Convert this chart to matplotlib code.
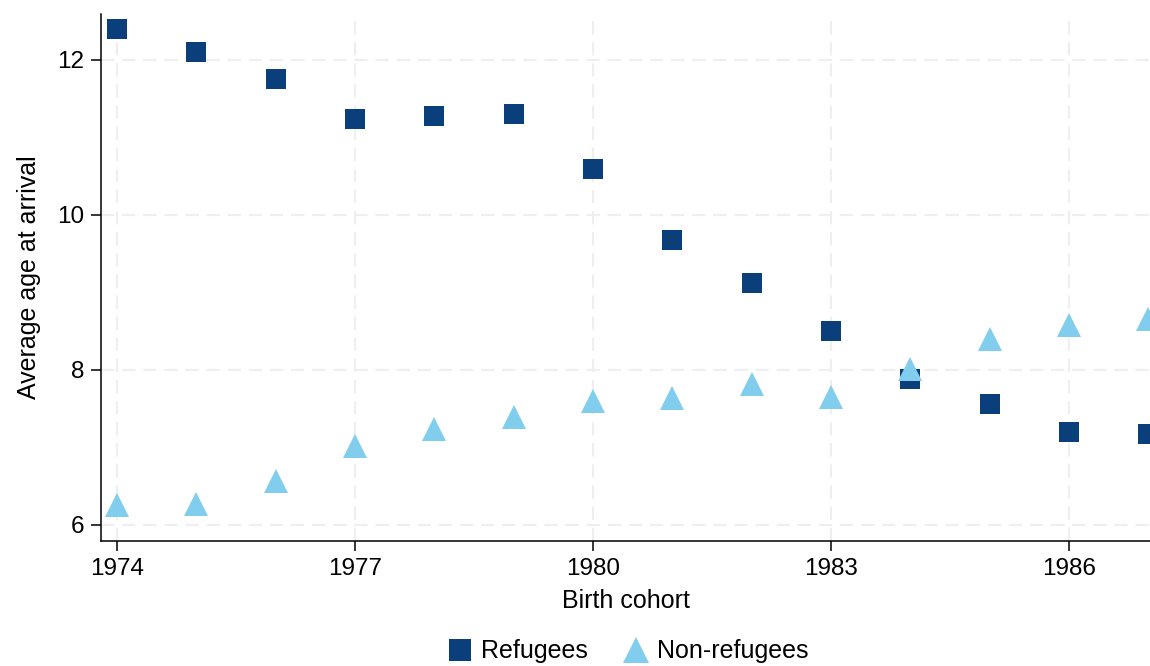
import numpy as np
import matplotlib.pyplot as plt

plt.rcParams['font.family'] = ['Liberation Sans', 'DejaVu Sans']

cohort = np.arange(1974, 1988)
refugees = [12.40, 12.10, 11.75, 11.24, 11.28, 11.30, 10.59, 9.68, 9.12, 8.50, 7.88, 7.56, 7.20, 7.17]
non_refugees = [6.25, 6.27, 6.57, 7.02, 7.24, 7.39, 7.59, 7.63, 7.81, 7.65, 8.01, 8.39, 8.58, 8.66]

xticks = [1974, 1977, 1980, 1983, 1986]
yticks = [6, 8, 10, 12]

fig = plt.figure(figsize=(11.5, 6.66), dpi=100)
ax = fig.add_axes([0.0878, 0.1877, 0.9122, 0.7913])

ax.plot(cohort, refugees, linestyle='none', marker='s', markersize=14.5,
        color='#0b3f7c', markeredgewidth=0, label='Refugees', clip_on=False, zorder=3)
ax.plot(cohort, non_refugees, linestyle='none', marker='^', markersize=17,
        color='#80cdee', markeredgewidth=0, label='Non-refugees', clip_on=False, zorder=4)

ax.set_xlim(1973.8, 1987.02)
ax.set_ylim(5.79, 12.59)
ax.set_xticks(xticks)
ax.set_yticks(yticks)
ax.grid(True, color='#efefef', linestyle=(0, (6, 3.5)), linewidth=1.6, zorder=0)
ax.set_axisbelow(True)

for side in ['top', 'right']:
    ax.spines[side].set_visible(False)
for side in ['left', 'bottom']:
    ax.spines[side].set_linewidth(1.1)
ax.tick_params(axis='both', labelsize=17.5, length=7, width=1.1, pad=5)

ax.set_xlabel('Birth cohort', fontsize=18, labelpad=7)
ax.set_ylabel('Average age at arrival', fontsize=18, labelpad=12)

fig.legend(loc='lower center', bbox_to_anchor=(0.545, -0.03), ncol=2, frameon=False,
           fontsize=18, handletextpad=0.25, columnspacing=1.3, handlelength=1.2,
           markerscale=1.1)

fig.savefig('out.png', dpi=100)
